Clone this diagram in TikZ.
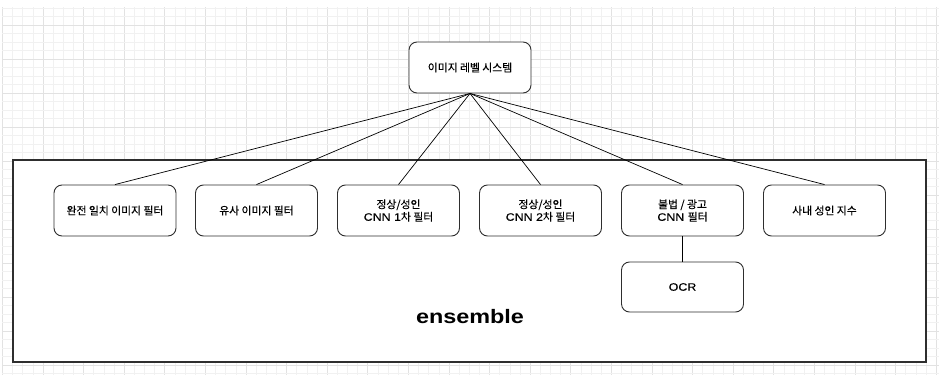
\documentclass[tikz,border=0pt]{standalone}
\usepackage{fontspec}
\setmainfont{Liberation Sans}[FakeStretch=1.15,FakeBold=0.3]
\newfontfamily\kr{Noto Sans CJK KR}[FakeBold=0.4]
\newfontfamily\ensfont{Liberation Sans}[FakeStretch=1.2]
\definecolor{gridminor}{HTML}{F1F1F1}
\definecolor{gridmajor}{HTML}{E2E2E2}
\definecolor{stroke}{HTML}{2E2E2E}
\tikzset{
  box/.style={draw=stroke, line width=0.9pt, rounded corners=8pt, fill=white,
    minimum width=122pt, minimum height=51pt, inner sep=0pt, align=center,
    font=\fontsize{10.8}{12.5}\selectfont},
  frame/.style={draw=stroke, line width=1.2pt, minimum width=913pt, minimum height=202pt, inner sep=0pt},
  link/.style={draw=black, line width=0.7pt},
  gmin/.style={draw=gridminor, line width=0.6pt},
  gmaj/.style={draw=gridmajor, line width=0.8pt}
}
\begin{document}
\begin{tikzpicture}[x=1pt,y=-1pt]
\useasboundingbox[fill=white] (0,0) rectangle (939,375);
% grid
\foreach \i in {0,...,92} {
  \pgfmathsetmacro{\gx}{2.4+10.15*\i}
  \pgfmathtruncatemacro{\m}{mod(\i,4)}
  \ifnum\m=0 \draw[gmaj] (\gx,7) -- (\gx,375); \else \draw[gmin] (\gx,7) -- (\gx,375); \fi
}
\foreach \j in {0,...,43} {
  \pgfmathsetmacro{\gy}{8+8.5*\j}
  \pgfmathtruncatemacro{\m}{mod(\j+2,4)}
  \ifnum\m=0 \draw[gmaj] (2.4,\gy) -- (939,\gy); \else \draw[gmin] (2.4,\gy) -- (939,\gy); \fi
}
% ensemble frame
\node[frame, fill=white] (frame) at (469.5,261) {};
\node[anchor=base, font=\ensfont\bfseries\fontsize{19.5}{22}\selectfont] (ens) at (470,323.5) {ensemble};
% nodes
\node[box] (top) at (470,67.5) {{\kr 이미지 레벨 시스템}};
\node[box] (b1) at (115,210.5) {{\kr 완전 일치 이미지 필터}};
\node[box] (b2) at (256.5,210.5) {{\kr 유사 이미지 필터}};
\node[box] (b3) at (398.5,210.5) {{\kr 정상/성인}\\CNN 1{\kr 차 필터}};
\node[box] (b4) at (540.5,210.5) {{\kr 정상/성인}\\CNN 2{\kr 차 필터}};
\node[box] (b5) at (682.5,210.5) {{\kr 불법 / 광고}\\CNN {\kr 필터}};
\node[box] (b6) at (824.5,210.5) {{\kr 사내 성인 지수}};
\node[box, minimum height=50pt] (ocr) at (682.5,287) {OCR};
% connectors
\foreach \n in {b1,b2,b3,b4,b5,b6} { \draw[link] (top.south) -- (\n.north); }
\draw[link] (b5.south) -- (ocr.north);
\end{tikzpicture}
\end{document}
